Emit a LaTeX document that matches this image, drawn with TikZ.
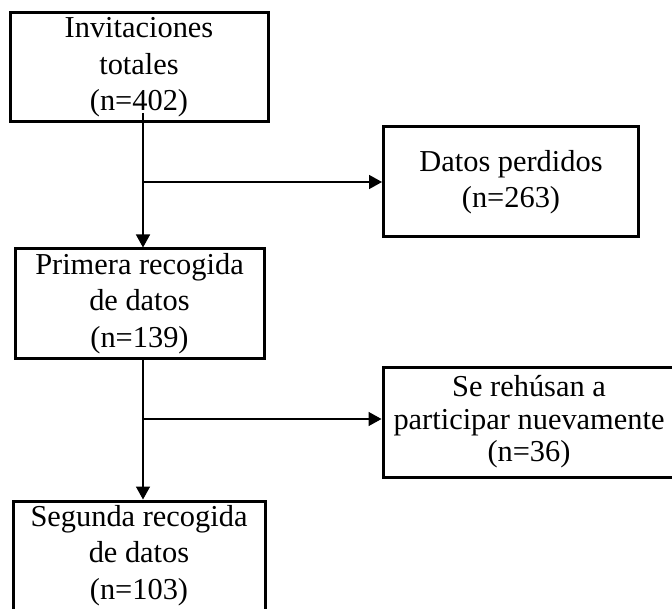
\documentclass[tikz,border=0pt]{standalone}
\usepackage{fontspec}
\setmainfont{Liberation Serif}
\usetikzlibrary{arrows.meta}
\begin{document}
\begin{tikzpicture}[x=0.5pt,y=-0.5pt,
  box/.style={draw=black, line width=1.5pt, fill=white, inner sep=0pt,
    align=center, font=\fontsize{15.2}{18.3}\selectfont},
  arr/.style={draw=black, line width=0.75pt,
    -{Triangle[length=6.5pt,width=7pt]}},
  link/.style={draw=black, line width=0.75pt}]
  \useasboundingbox (0,0) rectangle (672,608);
  \clip (0,0) rectangle (672,608);

  % boxes
  \node[box, minimum width=129pt, minimum height=54.5pt] (b1) at (139,67.5)
    {Invitaciones\\totales\\(n=402)};
  \node[box, minimum width=127.5pt, minimum height=55pt] (b2) at (511,182)
    {Datos perdidos\\(n=263)};
  \node[box, minimum width=124.5pt, minimum height=54.5pt] (b3) at (139.5,303.5)
    {Primera recogida\\de datos\\(n=139)};
  \node[box, minimum width=146pt, minimum height=55pt,
    font=\fontsize{15.2}{16.3}\selectfont] (b4) at (529,422)
    {Se rehúsan a\\participar nuevamente\\(n=36)};
  \node[box, minimum width=126pt, minimum height=54.5pt] (b5) at (139,555.5)
    {Segunda recogida\\de datos\\(n=103)};

  % trunk lines and their branch points
  \coordinate (s1) at (143,113);
  \coordinate (j1) at (143,182);
  \coordinate (s2) at (143,358);
  \coordinate (j2) at (143,419);

  \draw[arr] (s1) -- (s1 |- b3.north);
  \draw[arr] (j1) -- (j1 -| b2.west);
  \draw[arr] (s2 |- b3.south) -- (s2 |- b5.north);
  \draw[arr] (j2) -- (j2 -| b4.west);
\end{tikzpicture}
\end{document}
